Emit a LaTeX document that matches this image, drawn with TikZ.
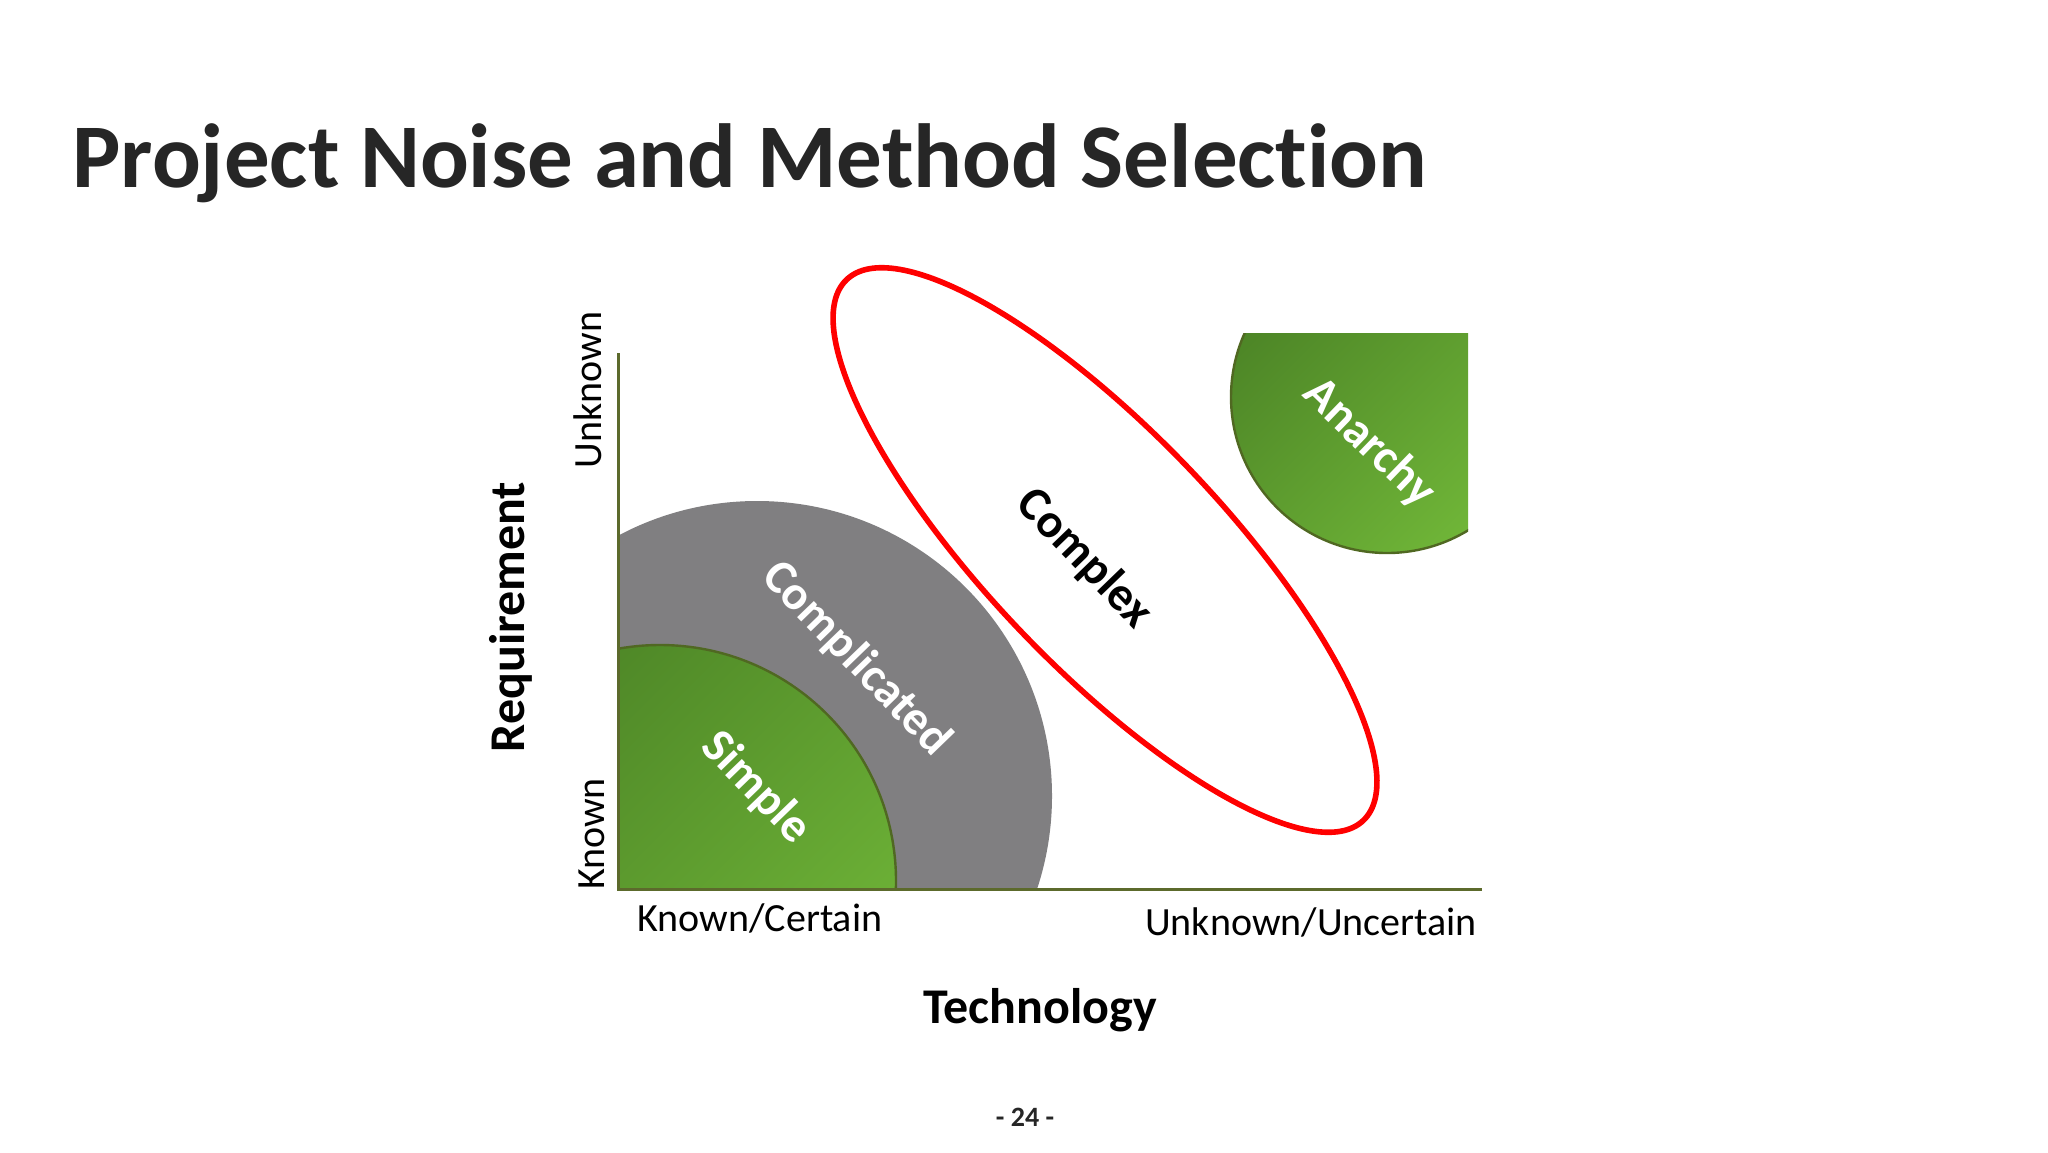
\documentclass[tikz,border=0pt]{standalone}
\usepackage{fontspec}
\setmainfont{Carlito}[RawFeature={-liga}]
\definecolor{gdark}{RGB}{76,132,38}
\definecolor{glight}{RGB}{112,182,56}
\definecolor{gborder}{RGB}{80,104,34}
\definecolor{greyfill}{RGB}{128,127,129}
\definecolor{axiscol}{RGB}{92,106,44}
\definecolor{titlecol}{RGB}{38,38,38}
\tikzset{
  greenshade/.style={top color=gdark, bottom color=glight, shading angle=45, draw=gborder, line width=1.2pt},
  zonelab/.style={font=\bfseries\fontsize{24}{28}\selectfont, text=white, inner sep=0pt},
  axislab/.style={font=\fontsize{20}{24}\selectfont, text=black, inner sep=0pt},
  axistitle/.style={font=\bfseries\fontsize{25}{30}\selectfont, text=black, inner sep=0pt},
  axisline/.style={draw=axiscol, line width=1.5pt},
}
\begin{document}
\begin{tikzpicture}[x=0.5pt, y=-0.5pt]
\useasboundingbox (0,0) rectangle (2048,1152);
\fill[white] (0,0) rectangle (2048,1152);
% title
\node[anchor=base west, inner sep=0pt, text=titlecol, font=\bfseries\fontsize{45.5}{54}\selectfont] (title) at (72,187) {Project Noise and Method Selection};
% Complicated + Simple zones
\begin{scope}
  \clip (618,300) rectangle (1482,889);
  \fill[greyfill] (757,796) circle[radius=147.5pt];
  \shadedraw[greenshade] (660,881) circle[radius=118pt];
\end{scope}
% Anarchy zone
\begin{scope}
  \clip (1200,333) rectangle (1468,600);
  \shadedraw[greenshade] (1387,397) circle[radius=78pt];
\end{scope}
% Complex ellipse
\draw[red, fill=white, line width=2.8pt, rotate around={-46.3:(1105,550)}] (1105,550) ellipse [x radius=187pt, y radius=58.5pt];
% axes
\coordinate (ytop) at (618,353);
\coordinate (origin) at (618,889);
\coordinate (xend) at (1482,889);
\draw[axisline] (ytop) -- (origin) -- (xend);
% zone labels
\node[zonelab, rotate=-46] (complicated) at (856,659) {Complicated};
\node[zonelab, rotate=-46] (simple) at (756,788) {Simple};
\node[zonelab, rotate=-46, text=black] (complex) at (1084,559) {Complex};
\node[zonelab, rotate=-44] (anarchy) at (1369,443) {Anarchy};
% axis labels
\node[axislab] (xknown) at (760,918) {Known/Certain};
\node[axislab] (xunknown) at (1311,922) {Unknown/Uncertain};
\node[axislab, rotate=90] (yunknown) at (588,390) {Unknown};
\node[axislab, rotate=90] (yknown) at (592,834) {Known};
\node[axistitle, rotate=90] (req) at (511,617) {Requirement};
\node[axistitle] (tech) at (1040,1010) {Technology};
\node[inner sep=0pt, text=titlecol, font=\bfseries\fontsize{14}{16}\selectfont] (page) at (1025,1117) {- 24 -};
\end{tikzpicture}
\end{document}
